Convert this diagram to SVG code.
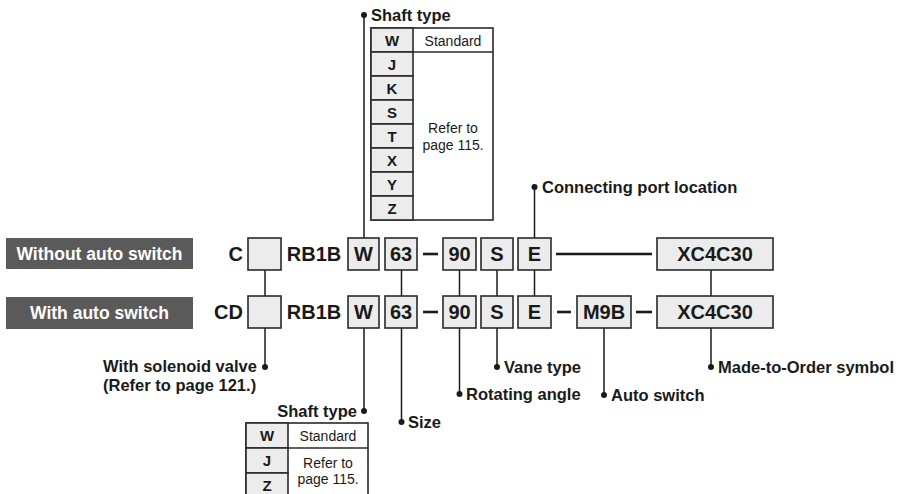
<svg xmlns="http://www.w3.org/2000/svg" width="899" height="494" viewBox="0 0 899 494">
<style>
text{font-family:"Liberation Sans",Arial,sans-serif;fill:#1a1a1a}
.b{font-weight:bold}
.box{fill:#ececec;stroke:#2a2a2a;stroke-width:1.6}
.wbox{fill:#ffffff;stroke:#2a2a2a;stroke-width:1.6}
.lab{fill:#5a5a5a}
.lt{fill:#ffffff;font-weight:bold;font-size:17.5px}
.bt{font-weight:bold;font-size:20px;text-anchor:middle}
.nt{font-weight:bold;font-size:16.5px}
.tt{font-size:14px;text-anchor:middle}
.tl{font-weight:bold;font-size:15px;text-anchor:middle}
.con line{stroke:#1a1a1a;stroke-width:1.5}
.con line.dash{stroke-width:2.6}
.con circle{fill:#1a1a1a}
</style>

<g id="label-without">
<rect class="lab" x="6" y="238" width="187" height="31"/>
<text class="lt" x="99.5" y="260" text-anchor="middle">Without auto switch</text>
</g>
<g id="label-with">
<rect class="lab" x="6" y="297" width="187" height="32"/>
<text class="lt" x="99.5" y="319" text-anchor="middle">With auto switch</text>
</g>

<g id="connectors" class="con">
<line x1="265" y1="270" x2="265" y2="296"/>
<line x1="401.5" y1="270" x2="401.5" y2="296"/>
<line x1="459.5" y1="270" x2="459.5" y2="296"/>
<line x1="497" y1="270" x2="497" y2="296"/>
<line x1="534.5" y1="270" x2="534.5" y2="296"/>
<line x1="711" y1="270" x2="711" y2="296"/>
<line x1="364" y1="238" x2="364" y2="15"/><circle cx="364" cy="15" r="3"/>
<line x1="534.5" y1="238" x2="534.5" y2="187"/><circle cx="534.5" cy="187" r="3"/>
<line class="dash" x1="423" y1="254" x2="438" y2="254"/>
<line class="dash" x1="556" y1="254" x2="652" y2="254"/>
<line class="dash" x1="423" y1="312" x2="438" y2="312"/>
<line class="dash" x1="557" y1="312" x2="571" y2="312"/>
<line class="dash" x1="636" y1="312" x2="652" y2="312"/>
<line x1="265" y1="328" x2="265" y2="367"/><circle cx="265" cy="367" r="3"/>
<line x1="364" y1="328" x2="364" y2="411"/><circle cx="364" cy="411" r="3"/>
<line x1="401.5" y1="328" x2="401.5" y2="422"/><circle cx="401.5" cy="422" r="3"/>
<line x1="459.5" y1="328" x2="459.5" y2="394"/><circle cx="459.5" cy="394" r="3"/>
<line x1="497" y1="328" x2="497" y2="367"/><circle cx="497" cy="367" r="3"/>
<line x1="604" y1="328" x2="604" y2="395"/><circle cx="604" cy="395" r="3"/>
<line x1="711" y1="328" x2="711" y2="367"/><circle cx="711" cy="367" r="3"/>
</g>

<g id="row1">
<text class="bt" x="243" y="261" style="text-anchor:end">C</text>
<rect class="box" x="248" y="238" width="33" height="32"/>
<text class="bt" x="314" y="261">RB1B</text>
<rect class="box" x="348" y="238" width="31" height="32"/><text class="bt" x="363.5" y="261">W</text>
<rect class="box" x="385" y="238" width="32" height="32"/><text class="bt" x="401" y="261">63</text>
<rect class="box" x="443" y="238" width="33" height="32"/><text class="bt" x="459.5" y="261">90</text>
<rect class="box" x="481" y="238" width="32" height="32"/><text class="bt" x="497" y="261">S</text>
<rect class="box" x="518" y="238" width="33" height="32"/><text class="bt" x="534.5" y="261">E</text>
<rect class="box" x="657" y="238" width="116" height="32"/><text class="bt" x="715" y="261">XC4C30</text>
</g>

<g id="row2">
<text class="bt" x="243" y="319" style="text-anchor:end">CD</text>
<rect class="box" x="248" y="296" width="33" height="32"/>
<text class="bt" x="314" y="319">RB1B</text>
<rect class="box" x="348" y="296" width="31" height="32"/><text class="bt" x="363.5" y="319">W</text>
<rect class="box" x="385" y="296" width="32" height="32"/><text class="bt" x="401" y="319">63</text>
<rect class="box" x="443" y="296" width="33" height="32"/><text class="bt" x="459.5" y="319">90</text>
<rect class="box" x="481" y="296" width="32" height="32"/><text class="bt" x="497" y="319">S</text>
<rect class="box" x="518" y="296" width="33" height="32"/><text class="bt" x="534.5" y="319">E</text>
<rect class="box" x="577" y="296" width="54" height="32"/><text class="bt" x="604" y="319">M9B</text>
<rect class="box" x="657" y="296" width="116" height="32"/><text class="bt" x="715" y="319">XC4C30</text>
</g>

<g id="shaft-type-top">
<text class="nt" x="371" y="21">Shaft type</text>
<rect class="wbox" x="371" y="28" width="122" height="192"/>
<rect class="box" x="371" y="28" width="42" height="24"/>
<rect class="box" x="371" y="52" width="42" height="24"/>
<rect class="box" x="371" y="76" width="42" height="24"/>
<rect class="box" x="371" y="100" width="42" height="24"/>
<rect class="box" x="371" y="124" width="42" height="24"/>
<rect class="box" x="371" y="148" width="42" height="24"/>
<rect class="box" x="371" y="172" width="42" height="24"/>
<rect class="box" x="371" y="196" width="42" height="24"/>
<line x1="413" y1="52" x2="493" y2="52" stroke="#2a2a2a" stroke-width="1.6"/>
<text class="tl" x="392" y="45.5">W</text>
<text class="tl" x="392" y="69.5">J</text>
<text class="tl" x="392" y="93.5">K</text>
<text class="tl" x="392" y="117.5">S</text>
<text class="tl" x="392" y="141.5">T</text>
<text class="tl" x="392" y="165.5">X</text>
<text class="tl" x="392" y="189.5">Y</text>
<text class="tl" x="392" y="213.5">Z</text>
<text class="tt" x="453" y="45.5">Standard</text>
<text class="tt" x="453" y="133">Refer to</text>
<text class="tt" x="453" y="150">page 115.</text>
</g>

<g id="port-location">
<text class="nt" x="542" y="193">Connecting port location</text>
</g>

<g id="solenoid-valve">
<text class="nt" x="103" y="372">With solenoid valve</text>
<text class="nt" x="103" y="391">(Refer to page 121.)</text>
</g>

<g id="shaft-type-bottom">
<text class="nt" x="357" y="417" style="text-anchor:end">Shaft type</text>
<rect class="wbox" x="246" y="423" width="122" height="80"/>
<rect class="box" x="246" y="423" width="42" height="25"/>
<rect class="box" x="246" y="448" width="42" height="25"/>
<rect class="box" x="246" y="473" width="42" height="25"/>
<line x1="288" y1="448" x2="368" y2="448" stroke="#2a2a2a" stroke-width="1.6"/>
<text class="tl" x="267" y="441">W</text>
<text class="tl" x="267" y="466">J</text>
<text class="tl" x="267" y="491">Z</text>
<text class="tt" x="328" y="441">Standard</text>
<text class="tt" x="328" y="468">Refer to</text>
<text class="tt" x="328" y="484">page 115.</text>
</g>

<g id="size"><text class="nt" x="408" y="428">Size</text></g>
<g id="rotating-angle"><text class="nt" x="466" y="400">Rotating angle</text></g>
<g id="vane-type"><text class="nt" x="504" y="373">Vane type</text></g>
<g id="auto-switch"><text class="nt" x="611" y="401">Auto switch</text></g>
<g id="made-to-order"><text class="nt" x="718" y="373">Made-to-Order symbol</text></g>
</svg>
